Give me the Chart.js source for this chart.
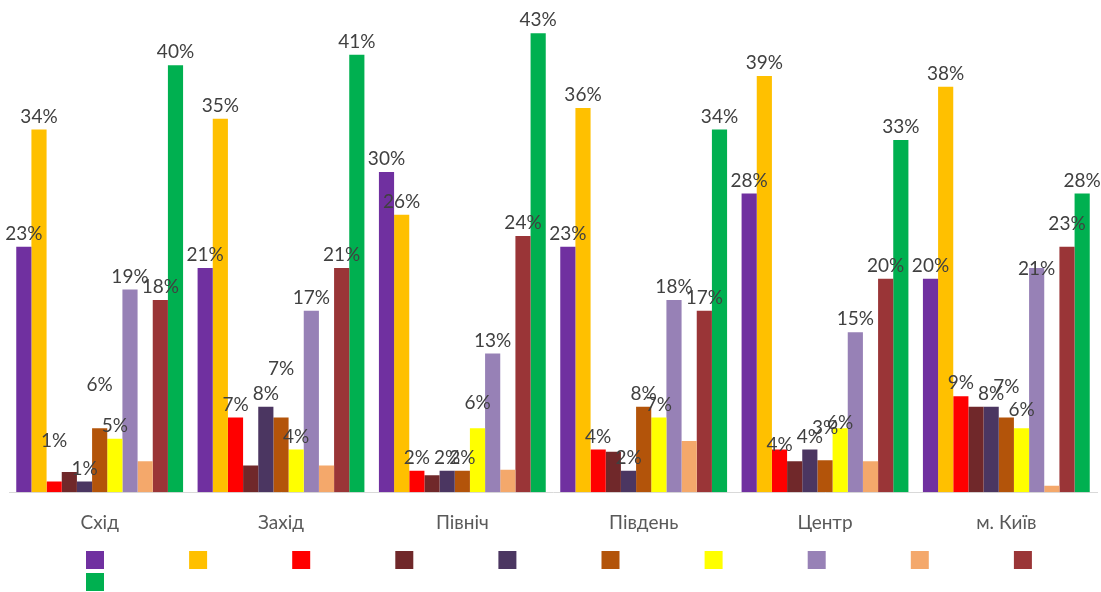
<!DOCTYPE html>
<html>
<head>
<meta charset="utf-8">
<script src="https://cdn.jsdelivr.net/npm/chart.js@4.4.1/dist/chart.umd.min.js"></script>
<style>
  html, body { margin: 0; padding: 0; background: #fff; }
</style>
</head>
<body>
<canvas id="regions-chart" width="1101" height="592"></canvas>
<script>
var regions = ["Схід", "Захід", "Північ", "Південь", "Центр", "м. Київ"];

var s1 = [0.23, 0.21, 0.30, 0.23, 0.28, 0.20];
var s2 = [0.34, 0.35, 0.26, 0.36, 0.39, 0.38];
var s3 = [0.01, 0.07, 0.02, 0.04, 0.04, 0.09];
var s4 = [0.019, 0.025, 0.016, 0.038, 0.029, 0.08];
var s5 = [0.01, 0.08, 0.02, 0.02, 0.04, 0.08];
var s6 = [0.06, 0.07, 0.02, 0.08, 0.03, 0.07];
var s7 = [0.05, 0.04, 0.06, 0.07, 0.06, 0.06];
var s8 = [0.19, 0.17, 0.13, 0.18, 0.15, 0.21];
var s9 = [0.029, 0.025, 0.021, 0.048, 0.029, 0.006];
var s10 = [0.18, 0.21, 0.24, 0.17, 0.20, 0.23];
var s11 = [0.40, 0.41, 0.43, 0.34, 0.33, 0.28];

var allSeries = [s1, s2, s3, s4, s5, s6, s7, s8, s9, s10, s11];
var colors = ["#7030A0", "#FFC000", "#FF0000", "#70282A", "#4B3661", "#B3540A",
              "#FFFF00", "#9781B6", "#F4A86B", "#9A3537", "#00B050"];

// series 4 and 9 carry no value labels
var unlabelled = [3, 8];
// labels moved up/down by hand so they don't run into neighbours
var nudge = {
  "2:0": -28, "5:0": -30, "5:1": -36, "6:2": -12,
  "2:4": 8, "5:4": -19, "6:4": 8,
  "5:5": -18, "6:5": -5, "7:5": 14, "9:5": -10
};

var barValues = {
  id: 'barValues',
  afterDatasetsDraw: function(chart) {
    var ctx = chart.ctx;
    ctx.save();
    ctx.font = '19px Lato';
    ctx.fillStyle = '#404040';
    ctx.textAlign = 'center';
    ctx.textBaseline = 'middle';
    chart.data.datasets.forEach(function(ds, di) {
      if (unlabelled.indexOf(di) >= 0) return;
      chart.getDatasetMeta(di).data.forEach(function(bar, i) {
        var dy = nudge[di + ':' + i] || 0;
        ctx.fillText(Math.round(ds.data[i] * 100) + '%', bar.x, bar.y - 13 + dy);
      });
    });
    ctx.restore();
  }
};

// plain colour boxes, ten to a row
var boxLegend = {
  id: 'boxLegend',
  afterDraw: function(chart) {
    var ctx = chart.ctx;
    ctx.save();
    chart.data.datasets.forEach(function(ds, i) {
      var row = Math.floor(i / 10), col = i % 10;
      ctx.fillStyle = ds.backgroundColor;
      ctx.fillRect(86 + col * 103.1, 551 + row * 22, 18, 18);
    });
    ctx.restore();
  }
};

var datasets = allSeries.map(function(vals, i) {
  return {
    label: '',
    data: vals,
    backgroundColor: colors[i],
    borderWidth: 0,
    barPercentage: 1,
    categoryPercentage: 0.92
  };
});

var ctx = document.getElementById("regions-chart").getContext('2d');
var chart = new Chart(ctx, {
  type: 'bar',
  data: { labels: regions, datasets: datasets },
  options: {
    responsive: false,
    animation: false,
    layout: { padding: { left: 9, right: 4, top: 12, bottom: 47 } },
    plugins: {
      legend: { display: false },
      tooltip: { enabled: false }
    },
    scales: {
      x: {
        grid: { display: false },
        border: { display: true, color: '#d9d9d9', width: 1 },
        ticks: { color: '#595959', font: { family: 'Lato', size: 19 }, padding: 11 }
      },
      y: {
        display: false,
        min: 0,
        max: 0.45
      }
    }
  },
  plugins: [barValues, boxLegend]
});
</script>
</body>
</html>
